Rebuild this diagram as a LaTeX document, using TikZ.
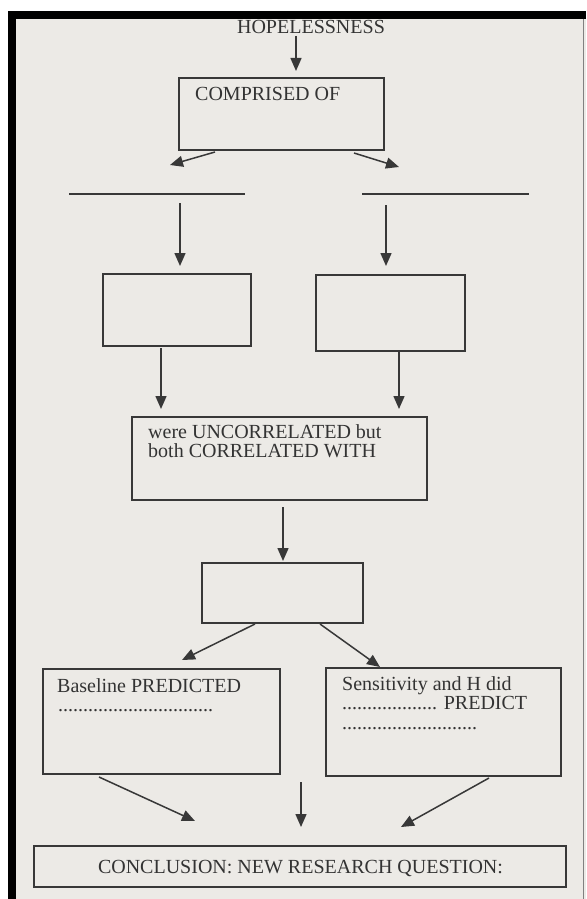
\documentclass[tikz,border=0pt]{standalone}
\usepackage{fontspec}
\setmainfont{Liberation Serif}
\usetikzlibrary{arrows.meta}
\definecolor{paper}{HTML}{ECEAE6}
\definecolor{ink}{HTML}{383838}
\definecolor{txt}{HTML}{333333}
\begin{document}
\begin{tikzpicture}[x=1pt,y=-1pt,
  boxline/.style={draw=ink,line width=1.7pt},
  arr/.style={draw=ink,line width=1.5pt,-{Triangle[length=13pt,width=11pt]}},
  txtnode/.style={inner sep=0pt,anchor=base west,text=txt,font=\fontsize{20}{20}\selectfont},
  ctxt/.style={inner sep=0pt,anchor=base,text=txt,font=\fontsize{20}{20}\selectfont}]
\useasboundingbox (0,0) rectangle (586,899);
% frame and paper
\fill[white] (0,0) rectangle (586,899);
\fill[black] (8,11) rectangle (586,899);
\fill[paper] (16,19) rectangle (586,899);
\draw[gray,line width=0.8pt] (583.5,19) -- (583.5,899);
% boxes
\node[boxline,rectangle,minimum width=205pt,minimum height=72pt,anchor=north west] (comp) at (178,77) {};
\node[boxline,rectangle,minimum width=148pt,minimum height=72pt,anchor=north west] (boxL) at (102,273) {};
\node[boxline,rectangle,minimum width=149pt,minimum height=76pt,anchor=north west] (boxR) at (315,274) {};
\node[boxline,rectangle,minimum width=295pt,minimum height=83pt,anchor=north west] (mid) at (131,416) {};
\node[boxline,rectangle,minimum width=161pt,minimum height=60pt,anchor=north west] (small) at (201,562) {};
\node[boxline,rectangle,minimum width=237pt,minimum height=105pt,anchor=north west] (base) at (42,668) {};
\node[boxline,rectangle,minimum width=235pt,minimum height=108pt,anchor=north west] (sens) at (325,667) {};
\node[boxline,rectangle,minimum width=532pt,minimum height=41pt,anchor=north west] (concl) at (33,845) {};
% blank lines
\coordinate (lineLa) at (69,194); \coordinate (lineLb) at (245,194);
\coordinate (lineRa) at (362,194); \coordinate (lineRb) at (529,194);
\draw[ink,line width=1.5pt] (lineLa) -- (lineLb);
\draw[ink,line width=1.5pt] (lineRa) -- (lineRb);
% texts
\node[ctxt] (hope) at (311,34) {HOPELESSNESS};
\node[txtnode] (tcomp) at (195,100) {COMPRISED OF};
\node[txtnode] (tmid1) at (148,438) {were UNCORRELATED but};
\node[txtnode] (tmid2) at (148,457) {both CORRELATED WITH};
\node[txtnode] (tbase1) at (57,692) {Baseline PREDICTED};
\node[txtnode] (tbase2) at (58,711) {...............................};
\node[txtnode] (tsens1) at (342,690) {Sensitivity and H did};
\node[txtnode] (tsens2) at (342,709) {................... PREDICT};
\node[txtnode] (tsens3) at (342,729) {...........................};
\node[ctxt] (tconcl) at (300.5,873) {CONCLUSION: NEW RESEARCH QUESTION:};
% arrow end points
\coordinate (a1s) at (296,36);  \coordinate (a1e) at (296,71);
\coordinate (a2s) at (215,152); \coordinate (a2e) at (170,165);
\coordinate (a3s) at (354,153); \coordinate (a3e) at (399,167);
\coordinate (a4s) at (180,203); \coordinate (a4e) at (180,266);
\coordinate (a5s) at (386,205); \coordinate (a5e) at (386,266);
\coordinate (a6s) at (161,348); \coordinate (a6e) at (161,409);
\coordinate (a7s) at (399,352); \coordinate (a7e) at (399,409);
\coordinate (a8s) at (283,507); \coordinate (a8e) at (283,561);
\coordinate (a9s) at (255,624); \coordinate (a9e) at (182,660);
\coordinate (a10s) at (320,624); \coordinate (a10e) at (380,667);
\coordinate (a11s) at (99,777); \coordinate (a11e) at (195,821);
\coordinate (a12s) at (301,782); \coordinate (a12e) at (301,827);
\coordinate (a13s) at (489,778); \coordinate (a13e) at (401,827);
\foreach \i in {1,...,13} {\draw[arr] (a\i s) -- (a\i e);}
\end{tikzpicture}
\end{document}
